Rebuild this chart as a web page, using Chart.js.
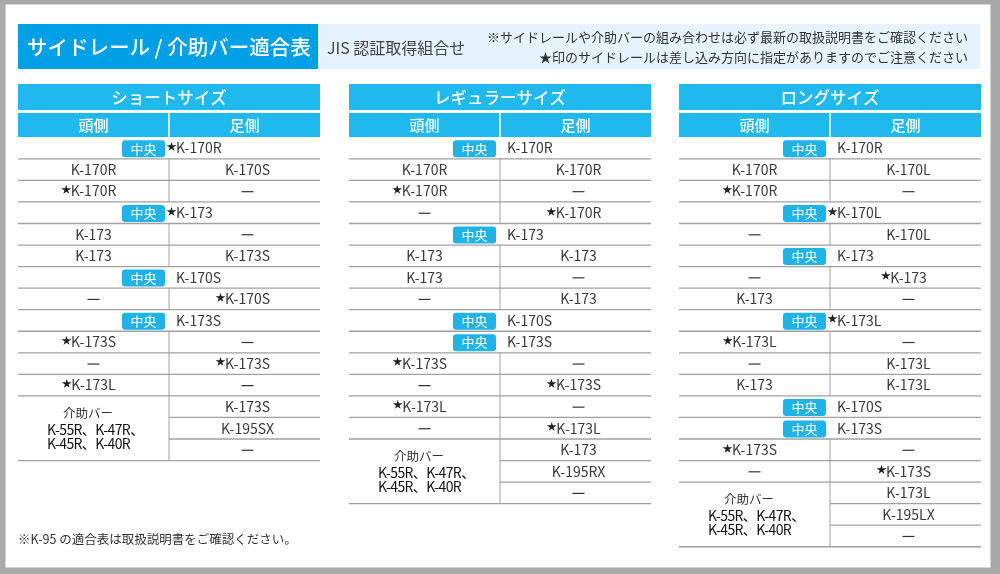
<!DOCTYPE html>
<html lang="ja">
<head>
<meta charset="utf-8">
<script src="https://cdn.jsdelivr.net/npm/chart.js@4.4.1/dist/chart.umd.min.js"></script>
<style>
  html, body { margin: 0; padding: 0; background: #fff; }
  #contenedor { width: 1000px; height: 574px; }
</style>
</head>
<body>
<div id="contenedor"><canvas id="tablaCompat" width="1000" height="574"></canvas></div>
<script>
// Textos
const titulo = "サイドレール / 介助バー適合表";
const subtitulo = "JIS 認証取得組合せ";
const notas = [
  "※サイドレールや介助バーの組み合わせは必ず最新の取扱説明書をご確認ください",
  "★印のサイドレールは差し込み方向に指定がありますのでご注意ください"
];
const notaPie = "※K-95 の適合表は取扱説明書をご確認ください。";
const columnas = ["頭側", "足側"];
const tamanos = ["ショートサイズ", "レギュラーサイズ", "ロングサイズ"];
const etiquetaCentro = "中央";
const etiquetaAsistencia = ["介助バー", "K-55R、K-47R、", "K-45R、K-40R"];

// Filas: ["中央", x] = fila de ancho completo, [頭側, 足側] = normal
const filasShort = [
  ["中央", "★K-170R"],
  ["K-170R", "K-170S"],
  ["★K-170R", "—"],
  ["中央", "★K-173"],
  ["K-173", "—"],
  ["K-173", "K-173S"],
  ["中央", "K-170S"],
  ["—", "★K-170S"],
  ["中央", "K-173S"],
  ["★K-173S", "—"],
  ["—", "★K-173S"],
  ["★K-173L", "—"]
];
const asistShort = ["K-173S", "K-195SX", "—"];

const filasRegular = [
  ["中央", "K-170R"],
  ["K-170R", "K-170R"],
  ["★K-170R", "—"],
  ["—", "★K-170R"],
  ["中央", "K-173"],
  ["K-173", "K-173"],
  ["K-173", "—"],
  ["—", "K-173"],
  ["中央", "K-170S"],
  ["中央", "K-173S"],
  ["★K-173S", "—"],
  ["—", "★K-173S"],
  ["★K-173L", "—"],
  ["—", "★K-173L"]
];
const asistRegular = ["K-173", "K-195RX", "—"];

const filasLong = [
  ["中央", "K-170R"],
  ["K-170R", "K-170L"],
  ["★K-170R", "—"],
  ["中央", "★K-170L"],
  ["—", "K-170L"],
  ["中央", "K-173"],
  ["—", "★K-173"],
  ["K-173", "—"],
  ["中央", "★K-173L"],
  ["★K-173L", "—"],
  ["—", "K-173L"],
  ["K-173", "K-173L"],
  ["中央", "K-170S"],
  ["中央", "K-173S"],
  ["★K-173S", "—"],
  ["—", "★K-173S"]
];
const asistLong = ["K-173L", "K-195LX", "—"];

const FUENTE = '"Noto Sans CJK JP", "Noto Sans", sans-serif';
const tablasIzq = [18, 349, 679];   // borde izquierdo de cada tabla
const anchoTabla = 302;
const cuerpoTop = 137.3;
const altoFila = 21.55;

// helpers
function texto(ctx, s, x, y, size, color, align, weight) {
  ctx.font = (weight || "normal") + " " + size + "px " + FUENTE;
  ctx.fillStyle = color;
  ctx.textAlign = align || "center";
  ctx.textBaseline = "middle";
  ctx.fillText(s, x, y);
}

// celda con estrella: la estrella se pone pequeña a la izquierda del texto
function celda(ctx, s, x, y, align) {
  let estrella = false;
  if (s.startsWith("★")) { estrella = true; s = s.slice(1); }
  if (s === "—") {
    ctx.strokeStyle = "#333";
    ctx.lineWidth = 1.2;
    ctx.beginPath();
    ctx.moveTo(x - 6, y + 0.5);
    ctx.lineTo(x + 6, y + 0.5);
    ctx.stroke();
    return;
  }
  ctx.font = "14px " + FUENTE;
  const w = ctx.measureText(s).width;
  const inicio = align === "left" ? x : x - w / 2;
  texto(ctx, s, inicio, y, 14, "#3a3a3a", "left");
  if (estrella) texto(ctx, "★", inicio + 0.5, y - 2, 10, "#222", "right");
}

function rectRedondo(ctx, x, y, w, h, r) {
  ctx.beginPath();
  ctx.moveTo(x + r, y);
  ctx.lineTo(x + w - r, y);
  ctx.quadraticCurveTo(x + w, y, x + w, y + r);
  ctx.lineTo(x + w, y + h - r);
  ctx.quadraticCurveTo(x + w, y + h, x + w - r, y + h);
  ctx.lineTo(x + r, y + h);
  ctx.quadraticCurveTo(x, y + h, x, y + h - r);
  ctx.lineTo(x, y + r);
  ctx.quadraticCurveTo(x, y, x + r, y);
  ctx.closePath();
}

function dibujarTabla(ctx, sx, sy, izq, nombre, filas, asist) {
  const L = sx.getPixelForValue(izq);
  const R = sx.getPixelForValue(izq + anchoTabla);
  const M = sx.getPixelForValue(izq + anchoTabla / 2);
  const fy = i => sy.getPixelForValue(cuerpoTop + i * altoFila);

  // cabecera
  ctx.fillStyle = "#20b9ed";
  ctx.fillRect(L, sy.getPixelForValue(84), R - L, sy.getPixelForValue(110) - sy.getPixelForValue(84));
  ctx.fillRect(L, sy.getPixelForValue(113), R - L, sy.getPixelForValue(137) - sy.getPixelForValue(113));
  ctx.fillStyle = "#ffffff";
  ctx.fillRect(M - 0.75, sy.getPixelForValue(113), 1.5, sy.getPixelForValue(137) - sy.getPixelForValue(113));
  texto(ctx, nombre, (L + R) / 2, sy.getPixelForValue(97.5), 16.5, "#fff", "center", "500");
  texto(ctx, columnas[0], (L + M) / 2, sy.getPixelForValue(125), 15, "#fff", "center", "500");
  texto(ctx, columnas[1], (M + R) / 2, sy.getPixelForValue(125), 15, "#fff", "center", "500");

  const total = filas.length + asist.length;
  // divisor vertical (solo filas normales)
  ctx.strokeStyle = "#c2c2c2";
  ctx.lineWidth = 1.5;
  filas.forEach((f, i) => {
    if (f[0] === etiquetaCentro) return;
    ctx.beginPath();
    ctx.moveTo(M, fy(i));
    ctx.lineTo(M, fy(i + 1));
    ctx.stroke();
  });
  ctx.beginPath();
  ctx.moveTo(M, fy(filas.length));
  ctx.lineTo(M, fy(total));
  ctx.stroke();

  // filas
  filas.forEach((f, i) => {
    const cy = (fy(i) + fy(i + 1)) / 2;
    if (f[0] === etiquetaCentro) {
      ctx.fillStyle = "#1fb3e8";
      rectRedondo(ctx, M - 47, fy(i) + 3, 43, 17, 3);
      ctx.fill();
      texto(ctx, etiquetaCentro, M - 25.5, cy + 0.5, 13, "#fff", "center");
      celda(ctx, f[1], M + 7, cy, "left");
    } else {
      celda(ctx, f[0], (L + M) / 2, cy);
      celda(ctx, f[1], (M + R) / 2 + 3, cy);
    }
  });

  // bloque 介助バー
  asist.forEach((s, j) => {
    const i = filas.length + j;
    celda(ctx, s, (M + R) / 2 + 3, (fy(i) + fy(i + 1)) / 2);
  });
  const cBloque = (fy(filas.length) + fy(total)) / 2;
  texto(ctx, etiquetaAsistencia[0], L + 70, cBloque - 15, 12.5, "#333", "center");
  ctx.letterSpacing = "-0.6px";
  texto(ctx, etiquetaAsistencia[1], L + 29, cBloque + 1, 14, "#111", "left");
  texto(ctx, etiquetaAsistencia[2], L + 29, cBloque + 15, 14, "#111", "left");
  ctx.letterSpacing = "0px";

  // líneas horizontales
  ctx.strokeStyle = "#a0a0a0";
  ctx.lineWidth = 1.3;
  for (let i = 1; i <= total; i++) {
    const soloDerecha = i > filas.length && i < total;
    ctx.beginPath();
    ctx.moveTo(soloDerecha ? M : L, fy(i));
    ctx.lineTo(R, fy(i));
    ctx.stroke();
  }
}

const pluginTabla = {
  id: "pluginTabla",
  beforeDraw(chart) {
    const ctx = chart.ctx;
    ctx.save();
    ctx.fillStyle = "#ffffff";
    ctx.fillRect(0, 0, chart.width, chart.height);
    ctx.restore();
  },
  afterDraw(chart) {
    const ctx = chart.ctx;
    const sx = chart.scales.x, sy = chart.scales.y;
    const X = v => sx.getPixelForValue(v), Y = v => sy.getPixelForValue(v);
    ctx.save();

    // marco gris
    ctx.fillStyle = "#a9a9a9";
    ctx.fillRect(X(0), Y(0), X(1000) - X(0), Y(4.5) - Y(0));
    ctx.fillRect(X(0), Y(0), X(5.5) - X(0), Y(574) - Y(0));
    ctx.fillRect(X(990.5), Y(0), X(1000) - X(990.5), Y(574) - Y(0));
    ctx.fillRect(X(0), Y(567.5), X(1000) - X(0), Y(574) - Y(567.5));

    // cabecera principal
    ctx.fillStyle = "#e7f3fc";
    ctx.fillRect(X(318), Y(24), X(980) - X(318), Y(69) - Y(24));
    ctx.fillStyle = "#00a0e6";
    ctx.fillRect(X(18), Y(24), X(318) - X(18), Y(69) - Y(24));
    texto(ctx, titulo, X(27), Y(47), 20.5, "#fff", "left", "500");
    texto(ctx, subtitulo, X(327), Y(47.5), 16, "#444", "left");
    texto(ctx, notas[0], X(968), Y(37.5), 13, "#333", "right");
    texto(ctx, notas[1], X(968), Y(57), 13, "#333", "right");

    // tablas
    dibujarTabla(ctx, sx, sy, tablasIzq[0], tamanos[0], filasShort, asistShort);
    dibujarTabla(ctx, sx, sy, tablasIzq[1], tamanos[1], filasRegular, asistRegular);
    dibujarTabla(ctx, sx, sy, tablasIzq[2], tamanos[2], filasLong, asistLong);

    texto(ctx, notaPie, X(18), Y(539), 12.5, "#333", "left");
    ctx.restore();
  }
};

new Chart(document.getElementById("tablaCompat"), {
  type: "scatter",
  data: { datasets: [{ data: [], pointRadius: 0 }] },
  options: {
    responsive: false,
    devicePixelRatio: 1,
    animation: false,
    layout: { padding: 0 },
    plugins: { legend: { display: false }, tooltip: { enabled: false } },
    scales: {
      x: { type: "linear", min: 0, max: 1000, display: false },
      y: { type: "linear", min: 0, max: 574, reverse: true, display: false }
    }
  },
  plugins: [pluginTabla]
});
</script>
</body>
</html>
